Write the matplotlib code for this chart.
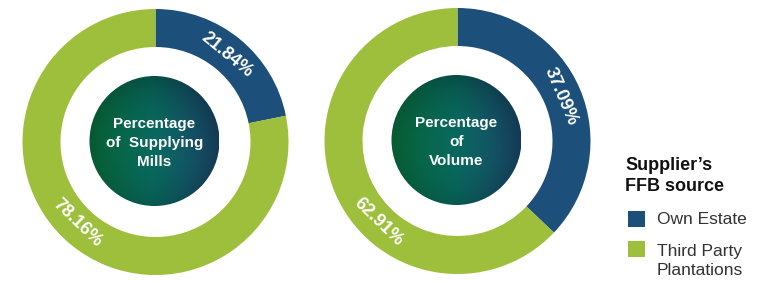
import numpy as np
import matplotlib
matplotlib.use("Agg")
import matplotlib.pyplot as plt
from matplotlib.patches import Circle, Rectangle

# Data
charts = ["Percentage\nof  Supplying\nMills", "Percentage\nof\nVolume"]
own_estate = [21.84, 37.09]
third_party = [78.16, 62.91]
legend_title = "Supplier\u2019s\nFFB source"
legend_labels = ["Own Estate", "Third Party\nPlantations"]

BLUE = "#1c4f79"
GREEN = "#9dbf3c"

W, H = 779, 281
fig = plt.figure(figsize=(W / 100, H / 100), dpi=100)
ax = fig.add_axes([0, 0, 1, 1])

centers = [(155.5, 281 - 142), (457.5, 281 - 141)]
R_out, ring_w, R_core = 133, 38, 65
green_label_angle = -134.0  # placement of the third-party label on the ring

# gradient image for the core
n = 240
yy, xx = np.mgrid[-1:1:n * 1j, -1:1:n * 1j]
t = np.clip((xx + 1) / 2, 0, 1)
c0 = np.array([0x07, 0x60, 0x34]) / 255
c1 = np.array([0x08, 0x64, 0x5a]) / 255
c2 = np.array([0x1c, 0x4e, 0x74]) / 255
t3 = t[..., None]
img = np.where(t3 < 0.5,
               c0 * (1 - t3 / 0.5) + c1 * (t3 / 0.5),
               c1 * (1 - (t3 - 0.5) / 0.5) + c2 * ((t3 - 0.5) / 0.5))
rr = np.sqrt((xx + 0.2) ** 2 + (yy + 0.1) ** 2)
shade = 1.05 - 0.2 * np.clip(rr, 0, 1.3) ** 2.5
img = np.clip(img * shade[..., None], 0, 1)

for (cx, cy), own, third, title in zip(centers, own_estate, third_party, charts):
    vals = [own, third]
    ax.pie(vals, colors=[BLUE, GREEN], startangle=90, counterclock=False,
           radius=R_out, center=(cx, cy), frame=True,
           wedgeprops=dict(width=ring_w, linewidth=0))
    total = sum(vals)
    own_mid = 90.0 - own / total * 360 / 2
    rl = R_out - ring_w / 2 - 1
    for v, ang in zip(vals, [own_mid, green_label_angle]):
        x = cx + rl * np.cos(np.radians(ang))
        y = cy + rl * np.sin(np.radians(ang))
        rot = ang - 90
        if rot < -90:
            rot += 180
        ax.text(x, y, f"{v:.2f}%", rotation=rot, rotation_mode="anchor",
                ha="center", va="center", color="white", fontsize=13,
                fontweight="bold", family="Liberation Sans")
    ccx, ccy = cx - 1, cy + 1
    im = ax.imshow(img, extent=[ccx - R_core, ccx + R_core, ccy - R_core, ccy + R_core],
                   origin="lower", zorder=3, interpolation="bilinear")
    circ = Circle((ccx, ccy), R_core, transform=ax.transData)
    im.set_clip_path(circ)
    ax.text(ccx, ccy - 2, title, ha="center", va="center", color="white",
            fontsize=11, fontweight="bold", family="Liberation Sans",
            linespacing=1.45, zorder=4)

ax.set_xlim(0, W)
ax.set_ylim(0, H)
ax.set_aspect("equal")
ax.axis("off")

# legend
ax.text(625, 281 - 176, legend_title, ha="left", va="center", fontsize=13,
        fontweight="bold", color="#111111", family="Liberation Sans", linespacing=1.25)
ax.add_patch(Rectangle((628, 281 - 227), 17, 16, color=BLUE, lw=0))
ax.add_patch(Rectangle((628, 281 - 257), 17, 16, color=GREEN, lw=0))
ax.text(657, 281 - 219, legend_labels[0], ha="left", va="center", fontsize=12.5,
        color="#333333", family="Liberation Sans")
ax.text(657, 281 - 261, legend_labels[1], ha="left", va="center", fontsize=12.5,
        color="#333333", family="Liberation Sans", linespacing=1.3)

fig.savefig("out.png", dpi=100)
